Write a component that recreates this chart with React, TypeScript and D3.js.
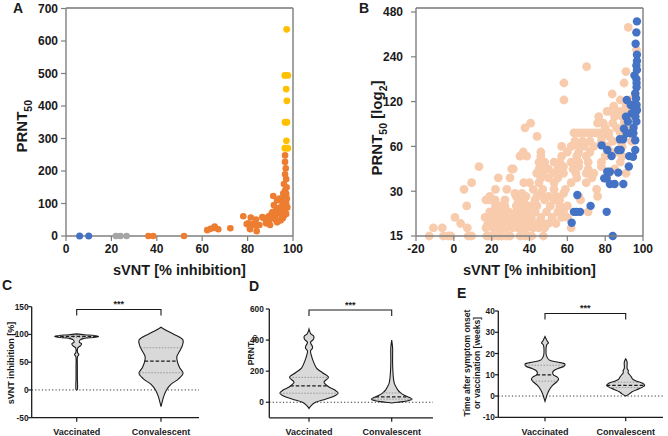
import React from "react";
import * as d3 from "d3";

const W = 668;
const H = 436;
const FONT = "'Liberation Sans', Arial, Helvetica, sans-serif";
const INK = "#1a1a1a";

// ---------- Panel A data (sVNT vs PRNT50) ----------
const aBlue = [[6, 0], [10, 0]];
const aGray = [[22, 0], [24, 0], [26.7, 0]];
const aOrange = [
  [36.3, 0], [38.4, 0], [52, 0],
  [62.2, 18], [63.7, 22], [65.3, 25], [65.5, 29], [67.1, 21], [72.4, 24],
  [78.1, 61], [79.6, 37], [81.1, 21], [81.4, 57], [82.5, 37], [83.7, 51], [84, 15],
  [85.2, 34], [83.3, 34], [81, 24], [80.3, 39], [87.2, 55], [88.1, 39], [89.3, 61],
  [89.9, 34], [90.6, 70], [91.3, 123], [91.6, 95], [92.5, 49], [92.8, 85], [93.5, 111],
  [94.3, 70], [95, 54], [95.4, 95], [95.7, 131], [90, 52], [88.5, 45], [86.5, 58],
  [91, 74], [92.5, 68], [93, 42], [92, 60], [93.5, 78], [94.5, 88], [95.5, 100],
  [94, 115], [93, 110], [94.5, 48], [95.5, 55], [96, 62], [95, 65], [97, 68],
  [95.5, 75], [96.5, 80], [96, 85], [97.5, 88], [96, 92], [97, 100], [96.5, 108],
  [97.3, 115], [96, 120], [97, 130], [96.5, 140], [97.2, 150], [96, 160], [97, 175],
  [96.5, 190], [96.8, 208], [96.5, 228], [96.5, 248],
];
const aGold = [
  [97.2, 636], [96.4, 494], [97.7, 494], [97, 452], [97.3, 416],
  [96.5, 350], [97.3, 350], [97.1, 293], [96.4, 270], [97.7, 270],
];
const aYTicks = [0, 100, 200, 300, 400, 500, 600, 700];
const aXTicks = [0, 20, 40, 60, 80, 100];

// ---------- Panel B data (sVNT vs PRNT50 log2) ----------
const bPeachLevels = [15, 17, 18.2, 20, 21.8, 23.9, 26.2, 27.7, 29, 30.9, 34.2, 36.9, 39.6, 42.3, 43.9, 47, 51.6, 55, 60, 65, 70, 74, 80, 86, 95, 103, 112, 123, 135, 160, 191, 206, 267, 378];
const bPeachX = [
  [-13, -5.6, -3, -1.5, 7.6, 9.4, 17.4, 19.1, 20.9, 23.5, 25.3, 27.9, 29.7, 35, 37.6, 39.4, 41.2, 47.3],
  [-10.8, -6.1, 7.1, 17, 21, 23.5, 26, 28, 31, 34, 36, 38.5, 42, 45, 48, 62],
  [3.6, 18, 20, 22.5, 25, 27, 30, 33, 37, 40, 44, 47, 50, 54],
  [0.6, 16.5, 19.5, 22, 24.5, 27, 29.5, 32, 35, 38.5, 41, 46, 52, 57, 60],
  [19, 21.5, 24, 26.5, 29, 33, 36, 38.5, 43, 49, 55, 58, 71],
  [6.8, 22, 24.5, 27, 33, 36.5, 40, 44, 51, 56, 60],
  [17, 19.1, 21.8, 27, 34, 37, 42.9, 48, 53, 56, 67],
  [19, 33, 38.1, 44, 50, 54, 66, 76],
  [32.3, 36, 46, 58],
  [5.4, 22, 28, 42, 47, 53, 59, 75.5],
  [9.4, 37, 40, 45, 53, 62, 70],
  [23.5, 29.7, 46, 50, 55, 65, 73, 80],
  [43.8, 47, 53, 58, 64.5, 70, 74, 82, 91],
  [30.6, 31.4, 45, 50, 55, 63, 71, 85],
  [13.3, 48, 58, 66, 78],
  [45, 48, 53, 56, 62, 66, 71, 78, 88],
  [35, 38.5, 46, 57, 65, 70, 80, 89],
  [36.7, 46, 60, 66, 72, 83, 87],
  [57, 62, 66, 69, 74, 81, 89],
  [64, 68, 72, 78, 84, 88, 94],
  [44, 78, 82, 89],
  [63.5, 65.5, 67.5, 69.5, 71.5, 73.5, 75.5, 77.5, 79.5, 82, 88],
  [37.6, 80, 86, 94],
  [40.6, 76, 79, 84, 90],
  [76.6, 85, 89, 93],
  [81, 83, 85, 87, 89, 91, 93, 95],
  [84.5, 91, 95],
  [58.2, 88, 93],
  [83.7, 96],
  [58.2, 90],
  [91],
  [70.2],
  [96.6],
  [92.2],
];
const bBlue = [
  [96.8, 415], [96.5, 350], [96.1, 294], [96.8, 248], [96.8, 225], [96.5, 210], [96.8, 196],
  [95.5, 180], [96.5, 170], [96.6, 160], [96.6, 150], [95.9, 136], [96.3, 126], [91.4, 123],
  [94.9, 114], [93.5, 114], [96.6, 114], [95.5, 105], [96.8, 105], [94, 100], [91, 95],
  [96, 95], [92, 88], [96.5, 88], [89.9, 79], [95, 80], [91.4, 73.5], [93.5, 73.5], [94.9, 73.5],
  [95.9, 66], [89.5, 67], [87.8, 67], [95.9, 56.7], [92.7, 51.6], [94.7, 51], [78.1, 61],
  [81.1, 56.7], [83.4, 51.7], [86.9, 56.7], [88.2, 56.7], [81.1, 40.5], [82.5, 40.5],
  [79.5, 36.6], [80.8, 36.6], [82.5, 33.5], [85, 33.5], [89.6, 33.5], [86.9, 40], [92.5, 44],
  [65.3, 28.3], [63.5, 21.8], [64.9, 21.8], [66.7, 21.8], [72.3, 23.9], [80.8, 21.8],
  [62.3, 18.4], [84, 15],
];
const bYTicks = [15, 30, 60, 120, 240, 480];
const bXTicks = [-20, 0, 20, 40, 60, 80, 100];

// ---------- Violin panels ----------
const groups = ["Vaccinated", "Convalescent"];

// profiles: [value, relative half width]
const cVacc = [[0, 0], [1, 0.03], [20, 0.03], [40, 0.03], [60, 0.04], [64, 0.1], [67, 0.04], [76, 0.05], [80, 0.18], [83, 0.22], [86, 0.12], [90, 0.15], [93, 0.35], [95, 0.85], [96.5, 1], [98, 0.8], [99.5, 0.35], [101, 0]];
const cConv = [[-30, 0], [-22, 0.05], [-12, 0.12], [0, 0.25], [10, 0.45], [20, 0.8], [30, 1], [40, 0.85], [50, 0.75], [60, 0.72], [70, 0.85], [80, 0.97], [90, 1], [100, 0.6], [107, 0.25], [113, 0]];
const cStats = [[94.5, 96.5, 97.5], [31, 52, 76]];
const cYTicks = [-50, 0, 50, 100, 150];

const dVacc = [[-40, 0], [-20, 0.08], [0, 0.22], [20, 0.55], [40, 0.85], [60, 0.97], [80, 0.85], [100, 0.65], [130, 0.5], [160, 0.65], [190, 0.45], [220, 0.25], [260, 0.15], [300, 0.08], [330, 0.05], [350, 0.12], [365, 0.1], [385, 0.05], [405, 0.15], [425, 0.16], [440, 0.06], [470, 0]];
const dConv = [[-5, 0], [0, 0.2], [10, 0.55], [20, 0.68], [30, 0.6], [45, 0.42], [60, 0.3], [80, 0.2], [100, 0.14], [120, 0.09], [150, 0.06], [200, 0.04], [250, 0.03], [300, 0.03], [350, 0.03], [400, 0]];
const dStats = [[58, 105, 160], [20, 35, 60]];
const dYTicks = [0, 200, 400, 600];

const eVacc = [[-2.5, 0], [-1, 0.05], [1, 0.12], [3, 0.22], [5, 0.38], [7, 0.62], [8, 0.68], [9, 0.6], [10, 0.42], [11, 0.38], [12, 0.45], [13, 0.65], [14, 0.95], [15, 1], [16, 0.6], [17, 0.2], [19, 0.07], [22, 0.05], [24, 0.08], [25, 0.17], [26, 0.1], [28, 0]];
const eConv = [[0, 0], [1, 0.18], [2, 0.32], [3, 0.55], [4, 0.8], [5, 0.95], [6, 0.85], [7, 0.55], [8, 0.35], [9, 0.28], [10, 0.2], [11, 0.12], [12, 0.13], [13, 0.07], [16, 0.07], [17.5, 0]];
const eStats = [[7, 10, 14.5], [4, 5, 6.5]];
const eYTicks = [-10, 0, 10, 20, 30, 40];

// ---------- scales ----------
const xA = d3.scaleLinear().domain([0, 100]).range([66, 293]);
const yA = d3.scaleLinear().domain([0, 700]).range([236, 8.5]);
const xB = d3.scaleLinear().domain([-20, 100]).range([416, 643]);
const yB = d3.scaleLog().base(2).domain([15, 480]).range([236, 12]);

function ScatterFrame({ x, y, xTicks, yTicks, yLabelX, letter, letterX, title, titleX, xTitle }: any) {
  const [x0, x1] = x.range();
  const [y0, y1] = y.range();
  return (
    <g fontFamily={FONT} fill={INK}>
      <line x1={x0} x2={x1} y1={8} y2={8} stroke="#333" strokeWidth={1.2} />
      <line x1={x1} x2={x1} y1={8} y2={y0} stroke="#8c8c8c" strokeWidth={1.6} />
      <line x1={x0} x2={x0} y1={8} y2={y0} stroke="#7f7f7f" strokeWidth={1.4} />
      <line x1={x0} x2={x1} y1={y0} y2={y0} stroke="#7f7f7f" strokeWidth={1.4} />
      {yTicks.map((t: number) => (
        <g key={"y" + t}>
          <line x1={x0 - 5} x2={x0} y1={y(t)} y2={y(t)} stroke="#7f7f7f" strokeWidth={1.2} />
          <text x={yLabelX} y={y(t)} dy="0.36em" textAnchor="end" fontSize={12} fontWeight="bold">{t}</text>
        </g>
      ))}
      {xTicks.map((t: number) => (
        <g key={"x" + t}>
          <line x1={x(t)} x2={x(t)} y1={y0} y2={y0 + 5} stroke="#7f7f7f" strokeWidth={1.2} />
          <text x={x(t)} y={253} textAnchor="middle" fontSize={12} fontWeight="bold">{t}</text>
        </g>
      ))}
      <text x={(x0 + x1) / 2} y={275} textAnchor="middle" fontSize={14.5} fontWeight="bold">{xTitle}</text>
      <text transform={`translate(${titleX},${(y0 + y1) / 2 + 4}) rotate(-90)`} textAnchor="middle" fontSize={15} fontWeight="bold">{title}</text>
      <text x={letterX} y={13} fontSize={14} fontWeight="bold">{letter}</text>
    </g>
  );
}

function ViolinPanel(props: any) {
  const { letter, letterPos, axisX, catRange, yDomain, yRange, yTicks, profiles, stats, maxHW, bracketY, title, titleX, titleY, titleSize, labelGap } = props;
  const x = d3.scalePoint().domain(groups).range(catRange);
  const y = d3.scaleLinear().domain(yDomain).range(yRange);
  const w = d3.scaleLinear().domain([0, 1]).range([0, maxHW]);
  const yBase = y(yDomain[0]);
  const gap = labelGap ?? 5.5;
  return (
    <g fontFamily={FONT} fill={INK}>
      <line x1={axisX[0]} x2={axisX[1]} y1={y(0)} y2={y(0)} stroke="#333" strokeWidth={1} strokeDasharray="1.2,2.2" />
      {groups.map((g, i) => {
        const cx = x(g) as number;
        const prof = profiles[i];
        const area = d3.area<number[]>()
          .y((d) => y(d[0]))
          .x0((d) => cx - w(d[1]))
          .x1((d) => cx + w(d[1]))
          .curve(d3.curveCatmullRom.alpha(0.5));
        const hw = d3.scaleLinear().domain(prof.map((d: number[]) => d[0])).range(prof.map((d: number[]) => d[1])).clamp(true);
        const [q1, med, q3] = stats[i];
        return (
          <g key={g}>
            <path d={area(prof) || ""} fill="#d9d9d9" stroke={INK} strokeWidth={1.1} />
            {[q1, q3].map((q, k) => (
              <line key={k} x1={cx - w(hw(q))} x2={cx + w(hw(q))} y1={y(q)} y2={y(q)} stroke="#888" strokeWidth={0.8} strokeDasharray="1.5,1.5" />
            ))}
            <line x1={cx - w(hw(med))} x2={cx + w(hw(med))} y1={y(med)} y2={y(med)} stroke={INK} strokeWidth={1.3} strokeDasharray="3.5,2" />
          </g>
        );
      })}
      <line x1={axisX[0]} x2={axisX[0]} y1={yBase} y2={y(yDomain[1])} stroke={INK} strokeWidth={1.3} />
      <line x1={axisX[0]} x2={axisX[1]} y1={yBase} y2={yBase} stroke={INK} strokeWidth={1.3} />
      {yTicks.map((t: number) => (
        <g key={t}>
          <line x1={axisX[0] - 3.5} x2={axisX[0]} y1={y(t)} y2={y(t)} stroke={INK} strokeWidth={1.2} />
          <text x={axisX[0] - gap} y={y(t)} dy="0.36em" textAnchor="end" fontSize={8.3} fontWeight="bold">{t}</text>
        </g>
      ))}
      {groups.map((g) => (
        <g key={g}>
          <line x1={x(g)} x2={x(g)} y1={yBase} y2={yBase + 4} stroke={INK} strokeWidth={1.2} />
          <text x={x(g)} y={435} textAnchor="middle" fontSize={9} fontWeight="bold">{g}</text>
        </g>
      ))}
      <path d={`M${catRange[0]},${bracketY + 6}V${bracketY}H${catRange[1]}V${bracketY + 6}`} fill="none" stroke={INK} strokeWidth={1.1} />
      <text x={(catRange[0] + catRange[1]) / 2} y={bracketY - 2.5} textAnchor="middle" fontSize={9} fontWeight="bold">***</text>
      <text transform={`translate(${titleX},${titleY}) rotate(-90)`} textAnchor="middle" fontSize={titleSize || 8.6} fontWeight="bold">{title}</text>
      <text x={letterPos[0]} y={letterPos[1]} fontSize={14} fontWeight="bold">{letter}</text>
    </g>
  );
}

export default function App() {
  const bPeach = bPeachLevels.flatMap((lv, i) => bPeachX[i].map((xv) => [xv, lv]));
  return (
    <svg width={W} height={H} style={{ position: "absolute", left: 0, top: 0, background: "#fff" }}>
      <rect width={W} height={H} fill="#fff" />

      {/* Panel A */}
      <ScatterFrame x={xA} y={yA} xTicks={aXTicks} yTicks={aYTicks} yLabelX={58} letter="A" letterX={13} titleX={27}
        xTitle="sVNT [% inhibition]"
        title={<><tspan>PRNT</tspan><tspan dy={4.8} fontSize={10.5}>50</tspan></>} />
      <g>
        {aOrange.map((d, i) => <circle key={"o" + i} cx={xA(d[0])} cy={yA(d[1])} r={3.3} fill="#ed7d31" />)}
        {aGold.map((d, i) => <circle key={"g" + i} cx={xA(d[0])} cy={yA(d[1])} r={3.4} fill="#ffc000" />)}
        {aGray.map((d, i) => <circle key={"y" + i} cx={xA(d[0])} cy={yA(d[1])} r={3.3} fill="#a5a5a5" />)}
        {aBlue.map((d, i) => <circle key={"b" + i} cx={xA(d[0])} cy={yA(d[1])} r={3.5} fill="#4472c4" />)}
      </g>

      {/* Panel B */}
      <g>
        {bPeach.map((d, i) => <circle key={"p" + i} cx={xB(d[0])} cy={yB(d[1])} r={4.4} fill="#f8cbad" />)}
        {bBlue.map((d, i) => <circle key={"b" + i} cx={xB(d[0])} cy={yB(d[1])} r={4.2} fill="#4472c4" />)}
      </g>
      <ScatterFrame x={xB} y={yB} xTicks={bXTicks} yTicks={bYTicks} yLabelX={403} letter="B" letterX={359} titleX={382}
        xTitle="sVNT [% inhibition]"
        title={<><tspan>PRNT</tspan><tspan dy={4.8} fontSize={10.5}>50</tspan><tspan dy={-4.8}> [log</tspan><tspan dy={4.8} fontSize={10.5}>2</tspan><tspan dy={-4.8}>]</tspan></>} />

      {/* Panel C */}
      <ViolinPanel letter="C" letterPos={[2, 290]} axisX={[31.7, 199]} catRange={[76.7, 161]}
        yDomain={[-50, 150]} yRange={[417.7, 306.7]} yTicks={cYTicks} profiles={[cVacc, cConv]} stats={cStats}
        maxHW={22} bracketY={309.5} titleX={13.5} titleY={363} titleSize={9} labelGap={3.2} title="sVNT inhibition [%]" />

      {/* Panel D */}
      <ViolinPanel letter="D" letterPos={[249, 291]} axisX={[269.3, 433]} catRange={[309, 391.7]}
        yDomain={[-100, 600]} yRange={[417.8, 309]} yTicks={dYTicks} profiles={[dVacc, dConv]} stats={dStats}
        maxHW={30} bracketY={310} titleX={254} titleY={350} labelGap={5.5}
        title={<><tspan>PRNT</tspan><tspan dy={2.8} fontSize={6.2}>50</tspan></>} />

      {/* Panel E */}
      <ViolinPanel letter="E" letterPos={[457, 298]} axisX={[498.3, 663]} catRange={[545, 625.7]}
        yDomain={[-10, 40]} yRange={[417.3, 311]} yTicks={eYTicks} profiles={[eVacc, eConv]} stats={eStats}
        maxHW={20} bracketY={313.5} titleX={470} titleY={363} labelGap={3.5}
        title={<><tspan x={0} dy={0}>Time after symptom onset</tspan><tspan x={0} dy={9.5}>or vaccination [weeks]</tspan></>} />
    </svg>
  );
}
